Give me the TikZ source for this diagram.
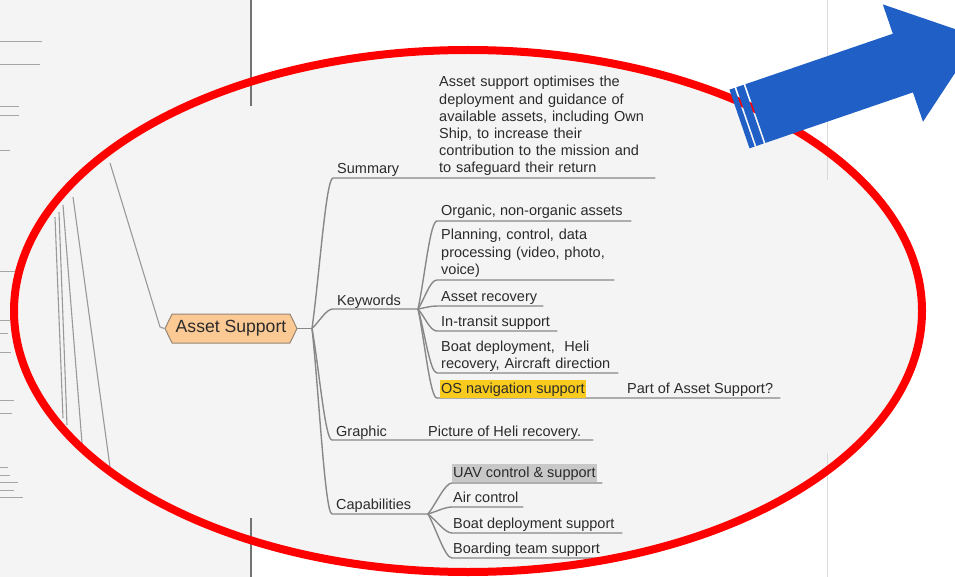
\documentclass[tikz,border=0pt]{standalone}
\usepackage{fontspec}
\setmainfont{Liberation Sans}
\usetikzlibrary{shapes.symbols,calc}
\definecolor{panel}{HTML}{F4F4F4}
\definecolor{txt}{HTML}{2B2B2B}
\definecolor{branch}{HTML}{888888}
\definecolor{peach}{HTML}{FBC994}
\definecolor{peachborder}{HTML}{978574}
\definecolor{ringred}{HTML}{FF0000}
\definecolor{arrowblue}{HTML}{1F5FC6}
\definecolor{hlyellow}{HTML}{F8CB1E}
\definecolor{hlgray}{HTML}{C8C8C8}
\newcommand\mmbranch[3]{\draw[branchline] (#1) .. controls ($(#1)!0.35!(#2)$) and ($(#2)+(-7,0)$) .. (#2) -- ++(#3,0);}
\begin{document}
\begin{tikzpicture}[x=1pt,y=-1pt,
  branchline/.style={draw=branch, line width=1.4pt, line cap=round},
  leftline/.style={draw=black!40, line width=1.1pt},
  pageline/.style={draw=black!55, line width=1.2pt},
  faintline/.style={draw=black!15, line width=0.8pt},
  tinyline/.style={draw=black!35, line width=0.6pt},
  mmlabel/.style={anchor=base west, inner sep=0pt, text=txt, font=\fontsize{14.5}{17.2}\selectfont},
  mmpara/.style={mmlabel, align=left, text width=#1},
  rootnode/.style={signal, signal to=east and west, signal pointer angle=128,
    minimum width=132, minimum height=29, inner sep=0pt, fill=peach, draw=peachborder,
    line width=1pt, text=txt, font=\fontsize{17.6}{20}\selectfont},
  ring/.style={draw=ringred, line width=8pt},
]
\useasboundingbox (0,0) rectangle (955,577);
\clip (0,0) rectangle (955,577);
% background
\fill[white] (0,0) rectangle (955,577);
\fill[panel] (0,0) rectangle (250,577);
\fill[panel] (468,311) ellipse [x radius=454, y radius=261];
% page edges
\draw[pageline] (251,0) -- (251,106);
\draw[pageline] (251,518) -- (251,577);
\draw[faintline] (827,0) -- (827,180);
\draw[faintline] (827,453) -- (827,577);
% tiny underlines of the unreadable left page
\foreach \yy/\ll in {41/42, 64/40, 106/19, 115/19, 150/10, 271/15, 320/10, 333/8, 352/11, 400/14, 413/12, 467/8, 475/10, 482/18, 490/14, 497/23}
  \draw[tinyline] (0,\yy) -- (\ll,\yy);
% left tree lines
\draw[leftline] (55,217) -- (63,418);
\draw[leftline] (59,212) -- (67,425);
\draw[leftline] (63,205) -- (82,443);
\draw[leftline] (73,197) -- (110,467);

% root
\node[rootnode] (root) at (231,328.5) {Asset Support};
\coordinate (lt) at (110,163);
\draw[leftline] (lt) -- (160,327) -- (root.west);

% level 1
\coordinate (rj) at (312,328.5);
\draw[branchline] (root.east) -- (rj);
\coordinate (u-sum) at (333,178);
\coordinate (u-kw) at (333,309);
\coordinate (u-gr) at (332,440);
\coordinate (u-cap) at (332,514);
\mmbranch{rj}{u-sum}{322}
\mmbranch{rj}{u-kw}{85}
\mmbranch{rj}{u-gr}{261}
\mmbranch{rj}{u-cap}{96}

\node[mmlabel] (sum) at (337,174) {Summary};
\node[mmlabel] (kw) at (337,305) {Keywords};
\node[mmlabel] (gr) at (336,436) {Graphic};
\node[mmlabel] (cap) at (336,509) {Capabilities};

\node[mmpara=220pt] (sumtext) at (439,87) {Asset support optimises the\\deployment and guidance of\\available assets, including Own\\Ship, to increase their\\contribution to the mission and\\to safeguard their return};
\node[mmlabel] (grtext) at (428,436) {Picture of Heli recovery.};

% keywords
\coordinate (kj) at (418,309);
\coordinate (u-org) at (437,221);
\coordinate (u-plan) at (437,280);
\coordinate (u-rec) at (437,306);
\coordinate (u-tr) at (437,331);
\coordinate (u-boat) at (437,373);
\coordinate (u-os) at (437,398);
\mmbranch{kj}{u-org}{194}
\mmbranch{kj}{u-plan}{177}
\mmbranch{kj}{u-rec}{106}
\mmbranch{kj}{u-tr}{120}
\mmbranch{kj}{u-boat}{181}
\mmbranch{kj}{u-os}{343}

\node[mmlabel] (org) at (441,216) {Organic, non-organic assets};
\node[mmpara=195pt] (plan) at (441,240) {Planning, control, data\\processing (video, photo,\\voice)};
\node[mmlabel] (rec) at (441,301) {Asset recovery};
\node[mmpara=205pt] (boat) at (441,351) {Boat deployment,\ \ Heli\\recovery, Aircraft direction};
\node[mmlabel] (tr) at (441,326) {In-transit support};
\node[mmlabel, fill=hlyellow, inner xsep=1pt, inner ysep=2pt] (os) at (440,393) {OS navigation support};
\node[mmlabel] (part) at (627,393) {Part of Asset Support?};

% capabilities
\coordinate (cj) at (428,514);
\coordinate (u-uav) at (452,483);
\coordinate (u-air) at (452,507);
\coordinate (u-bds) at (452,533);
\coordinate (u-bts) at (452,558);
\mmbranch{cj}{u-uav}{150}
\mmbranch{cj}{u-air}{71}
\mmbranch{cj}{u-bds}{170}
\mmbranch{cj}{u-bts}{148}

\node[mmlabel, fill=hlgray, inner xsep=1pt, inner ysep=2pt] (uav) at (452,477) {UAV control \& support};
\node[mmlabel] (air) at (453,502) {Air control};
\node[mmlabel] (bds) at (453,528) {Boat deployment support};
\node[mmlabel] (bts) at (453,553) {Boarding team support};

% red ring
\draw[ring] (468,311) ellipse [x radius=454, y radius=261];

% blue arrow
\begin{scope}[shift={(739.5,119)}, rotate=18.9]
\fill[arrowblue] (0,-31) rectangle (5.4,31);
\fill[arrowblue] (7.2,-31) rectangle (15,31);
\fill[arrowblue] (16.8,-31) -- (172.7,-31) -- (172.7,-62) -- (252.7,0) -- (172.7,62) -- (172.7,31) -- (16.8,31) -- cycle;
\end{scope}
\end{tikzpicture}
\end{document}
